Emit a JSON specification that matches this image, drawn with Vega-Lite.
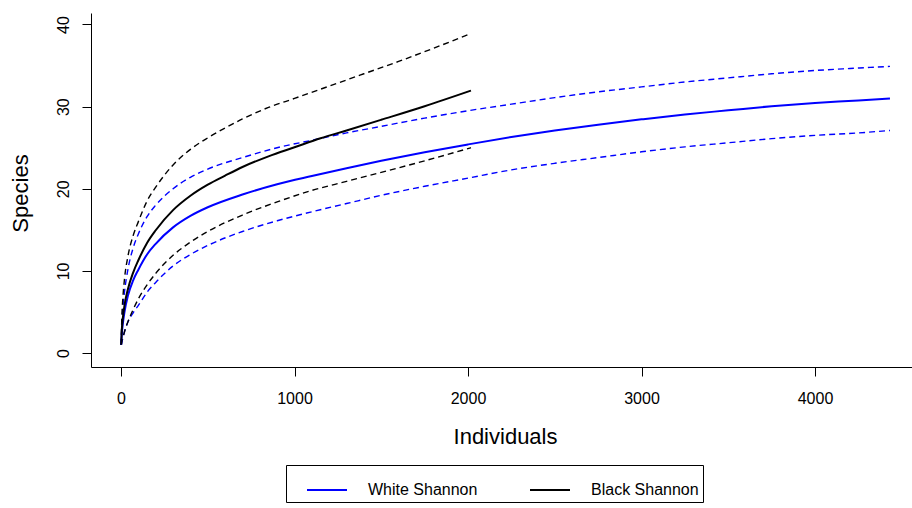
{
  "$schema": "https://vega.github.io/schema/vega-lite/v6.json",
  "width": 821,
  "height": 354,
  "autosize": {"type": "none"},
  "padding": {"left": 91, "top": 13, "right": 0, "bottom": 141},
  "background": "white",
  "config": {
    "view": {"stroke": null},
    "font": "Liberation Sans",
    "axis": {
      "grid": false,
      "domainColor": "#000000",
      "domainWidth": 1,
      "tickColor": "#000000",
      "tickWidth": 1,
      "tickSize": 9,
      "labelColor": "#000000",
      "labelFont": "Liberation Sans",
      "labelFontSize": 16,
      "titleColor": "#000000",
      "titleFont": "Liberation Sans",
      "titleFontSize": 22,
      "titleFontWeight": "normal"
    }
  },
  "data": {
    "values": [
      {"g": "White Shannon", "p": "est", "x": 1, "y": 1},
      {"g": "White Shannon", "p": "est", "x": 5, "y": 2.45},
      {"g": "White Shannon", "p": "est", "x": 10, "y": 3.5},
      {"g": "White Shannon", "p": "est", "x": 20, "y": 5.0},
      {"g": "White Shannon", "p": "est", "x": 40, "y": 7.0},
      {"g": "White Shannon", "p": "est", "x": 70, "y": 8.85},
      {"g": "White Shannon", "p": "est", "x": 100, "y": 10.15},
      {"g": "White Shannon", "p": "est", "x": 150, "y": 12.0},
      {"g": "White Shannon", "p": "est", "x": 200, "y": 13.3},
      {"g": "White Shannon", "p": "est", "x": 300, "y": 15.3},
      {"g": "White Shannon", "p": "est", "x": 400, "y": 16.7},
      {"g": "White Shannon", "p": "est", "x": 500, "y": 17.75},
      {"g": "White Shannon", "p": "est", "x": 700, "y": 19.3},
      {"g": "White Shannon", "p": "est", "x": 900, "y": 20.55},
      {"g": "White Shannon", "p": "est", "x": 1100, "y": 21.55},
      {"g": "White Shannon", "p": "est", "x": 1300, "y": 22.5},
      {"g": "White Shannon", "p": "est", "x": 1500, "y": 23.4},
      {"g": "White Shannon", "p": "est", "x": 1750, "y": 24.45},
      {"g": "White Shannon", "p": "est", "x": 2000, "y": 25.4},
      {"g": "White Shannon", "p": "est", "x": 2250, "y": 26.3},
      {"g": "White Shannon", "p": "est", "x": 2500, "y": 27.1},
      {"g": "White Shannon", "p": "est", "x": 2750, "y": 27.8},
      {"g": "White Shannon", "p": "est", "x": 3000, "y": 28.45},
      {"g": "White Shannon", "p": "est", "x": 3250, "y": 29.05},
      {"g": "White Shannon", "p": "est", "x": 3500, "y": 29.55},
      {"g": "White Shannon", "p": "est", "x": 3750, "y": 30.05},
      {"g": "White Shannon", "p": "est", "x": 4000, "y": 30.45},
      {"g": "White Shannon", "p": "est", "x": 4250, "y": 30.75},
      {"g": "White Shannon", "p": "est", "x": 4432, "y": 31.0},

      {"g": "White Shannon", "p": "hi", "x": 1, "y": 1},
      {"g": "White Shannon", "p": "hi", "x": 5, "y": 3.5},
      {"g": "White Shannon", "p": "hi", "x": 10, "y": 5.2},
      {"g": "White Shannon", "p": "hi", "x": 20, "y": 7.4},
      {"g": "White Shannon", "p": "hi", "x": 40, "y": 10.2},
      {"g": "White Shannon", "p": "hi", "x": 70, "y": 12.8},
      {"g": "White Shannon", "p": "hi", "x": 100, "y": 14.5},
      {"g": "White Shannon", "p": "hi", "x": 150, "y": 16.6},
      {"g": "White Shannon", "p": "hi", "x": 200, "y": 18.0},
      {"g": "White Shannon", "p": "hi", "x": 300, "y": 20.0},
      {"g": "White Shannon", "p": "hi", "x": 400, "y": 21.4},
      {"g": "White Shannon", "p": "hi", "x": 500, "y": 22.4},
      {"g": "White Shannon", "p": "hi", "x": 700, "y": 23.8},
      {"g": "White Shannon", "p": "hi", "x": 900, "y": 25.0},
      {"g": "White Shannon", "p": "hi", "x": 1100, "y": 25.9},
      {"g": "White Shannon", "p": "hi", "x": 1300, "y": 26.8},
      {"g": "White Shannon", "p": "hi", "x": 1500, "y": 27.6},
      {"g": "White Shannon", "p": "hi", "x": 1750, "y": 28.6},
      {"g": "White Shannon", "p": "hi", "x": 2000, "y": 29.5},
      {"g": "White Shannon", "p": "hi", "x": 2250, "y": 30.3},
      {"g": "White Shannon", "p": "hi", "x": 2500, "y": 31.1},
      {"g": "White Shannon", "p": "hi", "x": 2750, "y": 31.8},
      {"g": "White Shannon", "p": "hi", "x": 3000, "y": 32.4},
      {"g": "White Shannon", "p": "hi", "x": 3250, "y": 33.0},
      {"g": "White Shannon", "p": "hi", "x": 3500, "y": 33.5},
      {"g": "White Shannon", "p": "hi", "x": 3750, "y": 34.0},
      {"g": "White Shannon", "p": "hi", "x": 4000, "y": 34.4},
      {"g": "White Shannon", "p": "hi", "x": 4250, "y": 34.7},
      {"g": "White Shannon", "p": "hi", "x": 4432, "y": 34.9},

      {"g": "White Shannon", "p": "lo", "x": 1, "y": 1},
      {"g": "White Shannon", "p": "lo", "x": 5, "y": 1.4},
      {"g": "White Shannon", "p": "lo", "x": 10, "y": 1.8},
      {"g": "White Shannon", "p": "lo", "x": 20, "y": 2.6},
      {"g": "White Shannon", "p": "lo", "x": 40, "y": 3.8},
      {"g": "White Shannon", "p": "lo", "x": 70, "y": 4.9},
      {"g": "White Shannon", "p": "lo", "x": 100, "y": 5.8},
      {"g": "White Shannon", "p": "lo", "x": 150, "y": 7.4},
      {"g": "White Shannon", "p": "lo", "x": 200, "y": 8.6},
      {"g": "White Shannon", "p": "lo", "x": 300, "y": 10.6},
      {"g": "White Shannon", "p": "lo", "x": 400, "y": 12.0},
      {"g": "White Shannon", "p": "lo", "x": 500, "y": 13.1},
      {"g": "White Shannon", "p": "lo", "x": 700, "y": 14.8},
      {"g": "White Shannon", "p": "lo", "x": 900, "y": 16.1},
      {"g": "White Shannon", "p": "lo", "x": 1100, "y": 17.2},
      {"g": "White Shannon", "p": "lo", "x": 1300, "y": 18.2},
      {"g": "White Shannon", "p": "lo", "x": 1500, "y": 19.2},
      {"g": "White Shannon", "p": "lo", "x": 1750, "y": 20.3},
      {"g": "White Shannon", "p": "lo", "x": 2000, "y": 21.3},
      {"g": "White Shannon", "p": "lo", "x": 2250, "y": 22.3},
      {"g": "White Shannon", "p": "lo", "x": 2500, "y": 23.1},
      {"g": "White Shannon", "p": "lo", "x": 2750, "y": 23.8},
      {"g": "White Shannon", "p": "lo", "x": 3000, "y": 24.5},
      {"g": "White Shannon", "p": "lo", "x": 3250, "y": 25.1},
      {"g": "White Shannon", "p": "lo", "x": 3500, "y": 25.6},
      {"g": "White Shannon", "p": "lo", "x": 3750, "y": 26.1},
      {"g": "White Shannon", "p": "lo", "x": 4000, "y": 26.5},
      {"g": "White Shannon", "p": "lo", "x": 4250, "y": 26.8},
      {"g": "White Shannon", "p": "lo", "x": 4432, "y": 27.1},

      {"g": "Black Shannon", "p": "est", "x": 1, "y": 1},
      {"g": "Black Shannon", "p": "est", "x": 5, "y": 2.95},
      {"g": "Black Shannon", "p": "est", "x": 10, "y": 4.15},
      {"g": "Black Shannon", "p": "est", "x": 20, "y": 5.8},
      {"g": "Black Shannon", "p": "est", "x": 40, "y": 7.8},
      {"g": "Black Shannon", "p": "est", "x": 70, "y": 9.8},
      {"g": "Black Shannon", "p": "est", "x": 100, "y": 11.3},
      {"g": "Black Shannon", "p": "est", "x": 150, "y": 13.4},
      {"g": "Black Shannon", "p": "est", "x": 200, "y": 14.95},
      {"g": "Black Shannon", "p": "est", "x": 300, "y": 17.4},
      {"g": "Black Shannon", "p": "est", "x": 400, "y": 19.15},
      {"g": "Black Shannon", "p": "est", "x": 500, "y": 20.5},
      {"g": "Black Shannon", "p": "est", "x": 600, "y": 21.6},
      {"g": "Black Shannon", "p": "est", "x": 700, "y": 22.65},
      {"g": "Black Shannon", "p": "est", "x": 850, "y": 23.95},
      {"g": "Black Shannon", "p": "est", "x": 1000, "y": 25.05},
      {"g": "Black Shannon", "p": "est", "x": 1150, "y": 26.15},
      {"g": "Black Shannon", "p": "est", "x": 1300, "y": 27.1},
      {"g": "Black Shannon", "p": "est", "x": 1500, "y": 28.4},
      {"g": "Black Shannon", "p": "est", "x": 1750, "y": 30.05},
      {"g": "Black Shannon", "p": "est", "x": 2017, "y": 31.95},

      {"g": "Black Shannon", "p": "hi", "x": 1, "y": 1},
      {"g": "Black Shannon", "p": "hi", "x": 5, "y": 4.5},
      {"g": "Black Shannon", "p": "hi", "x": 10, "y": 6.5},
      {"g": "Black Shannon", "p": "hi", "x": 20, "y": 9.0},
      {"g": "Black Shannon", "p": "hi", "x": 40, "y": 11.8},
      {"g": "Black Shannon", "p": "hi", "x": 70, "y": 14.3},
      {"g": "Black Shannon", "p": "hi", "x": 100, "y": 16.0},
      {"g": "Black Shannon", "p": "hi", "x": 150, "y": 18.5},
      {"g": "Black Shannon", "p": "hi", "x": 200, "y": 20.2},
      {"g": "Black Shannon", "p": "hi", "x": 300, "y": 22.9},
      {"g": "Black Shannon", "p": "hi", "x": 400, "y": 24.8},
      {"g": "Black Shannon", "p": "hi", "x": 500, "y": 26.2},
      {"g": "Black Shannon", "p": "hi", "x": 600, "y": 27.4},
      {"g": "Black Shannon", "p": "hi", "x": 700, "y": 28.5},
      {"g": "Black Shannon", "p": "hi", "x": 850, "y": 29.9},
      {"g": "Black Shannon", "p": "hi", "x": 1000, "y": 31.0},
      {"g": "Black Shannon", "p": "hi", "x": 1200, "y": 32.5},
      {"g": "Black Shannon", "p": "hi", "x": 1400, "y": 34.0},
      {"g": "Black Shannon", "p": "hi", "x": 1600, "y": 35.5},
      {"g": "Black Shannon", "p": "hi", "x": 1800, "y": 37.1},
      {"g": "Black Shannon", "p": "hi", "x": 2017, "y": 38.9},

      {"g": "Black Shannon", "p": "lo", "x": 1, "y": 1},
      {"g": "Black Shannon", "p": "lo", "x": 5, "y": 1.4},
      {"g": "Black Shannon", "p": "lo", "x": 10, "y": 1.8},
      {"g": "Black Shannon", "p": "lo", "x": 20, "y": 2.6},
      {"g": "Black Shannon", "p": "lo", "x": 40, "y": 3.8},
      {"g": "Black Shannon", "p": "lo", "x": 70, "y": 5.3},
      {"g": "Black Shannon", "p": "lo", "x": 100, "y": 6.6},
      {"g": "Black Shannon", "p": "lo", "x": 150, "y": 8.3},
      {"g": "Black Shannon", "p": "lo", "x": 200, "y": 9.7},
      {"g": "Black Shannon", "p": "lo", "x": 300, "y": 11.9},
      {"g": "Black Shannon", "p": "lo", "x": 400, "y": 13.5},
      {"g": "Black Shannon", "p": "lo", "x": 500, "y": 14.8},
      {"g": "Black Shannon", "p": "lo", "x": 700, "y": 16.8},
      {"g": "Black Shannon", "p": "lo", "x": 900, "y": 18.4},
      {"g": "Black Shannon", "p": "lo", "x": 1100, "y": 19.8},
      {"g": "Black Shannon", "p": "lo", "x": 1300, "y": 20.9},
      {"g": "Black Shannon", "p": "lo", "x": 1500, "y": 22.0},
      {"g": "Black Shannon", "p": "lo", "x": 1750, "y": 23.4},
      {"g": "Black Shannon", "p": "lo", "x": 2017, "y": 25.0}
    ]
  },
  "encoding": {
    "x": {
      "field": "x",
      "type": "quantitative",
      "scale": {"domain": [-173, 4559], "nice": false, "zero": false},
      "axis": {
        "values": [0, 1000, 2000, 3000, 4000],
        "format": "d",
        "title": "Individuals",
        "labelPadding": 14,
        "titleX": 414,
        "titleY": 76,
        "titleAlign": "center",
        "titleBaseline": "alphabetic"
      }
    },
    "y": {
      "field": "y",
      "type": "quantitative",
      "scale": {"domain": [-1.7, 41.4], "nice": false, "zero": false},
      "axis": {
        "values": [0, 10, 20, 30, 40],
        "format": "d",
        "title": "Species",
        "labelAngle": -90,
        "labelAlign": "center",
        "labelBaseline": "alphabetic",
        "labelPadding": 14,
        "titleAngle": -90,
        "titleX": -64,
        "titleY": 180,
        "titleAlign": "center",
        "titleBaseline": "alphabetic"
      }
    }
  },
  "layer": [
    {
      "transform": [{"filter": "datum.p != 'est'"}],
      "mark": {"type": "line", "interpolate": "monotone", "strokeDash": [6, 4], "strokeWidth": 1.4},
      "encoding": {
        "stroke": {
          "field": "g",
          "type": "nominal",
          "scale": {"domain": ["Black Shannon", "White Shannon"], "range": ["#000000", "#0000ff"]},
          "legend": null
        },
        "detail": {"field": "p", "type": "nominal"}
      }
    },
    {
      "transform": [{"filter": "datum.p == 'est'"}],
      "mark": {"type": "line", "interpolate": "monotone", "strokeWidth": 2},
      "encoding": {
        "color": {
          "field": "g",
          "type": "nominal",
          "scale": {"domain": ["White Shannon", "Black Shannon"], "range": ["#0000ff", "#000000"]},
          "legend": {
            "orient": "none",
            "legendX": 195,
            "legendY": 452,
            "direction": "horizontal",
            "columns": 2,
            "title": null,
            "padding": 4,
            "strokeColor": "#000000",
            "fillColor": "#ffffff",
            "labelFont": "Liberation Sans",
            "labelFontSize": 16,
            "labelColor": "#000000",
            "labelOffset": 20,
            "symbolOffset": 16,
            "symbolType": "stroke",
            "symbolSize": 1600,
            "symbolStrokeWidth": 2,
            "columnPadding": 35
          }
        }
      }
    }
  ]
}
